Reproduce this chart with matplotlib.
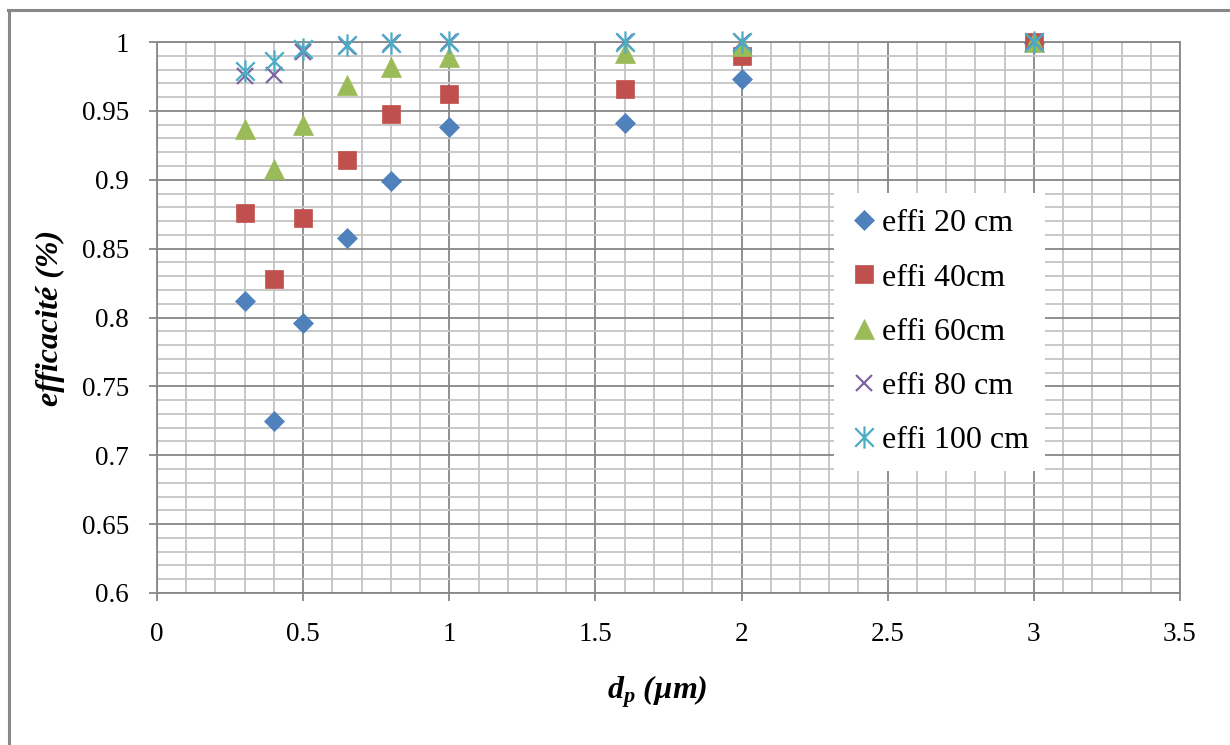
import matplotlib
matplotlib.use("Agg")
import matplotlib.pyplot as plt
from matplotlib.path import Path
from matplotlib.lines import Line2D
import numpy as np

plt.rcParams['font.family'] = ['Liberation Serif', 'DejaVu Serif']
plt.rcParams['mathtext.fontset'] = 'custom'
plt.rcParams['mathtext.it'] = 'Liberation Serif:italic:bold'
plt.rcParams['mathtext.rm'] = 'Liberation Serif:bold'

# Data
dp = [0.3, 0.4, 0.5, 0.65, 0.8, 1.0, 1.6, 2.0, 3.0]
effi_20 = [0.812, 0.725, 0.796, 0.858, 0.899, 0.938, 0.941, 0.973, 0.999]
effi_40 = [0.876, 0.828, 0.872, 0.914, 0.948, 0.962, 0.966, 0.990, 1.000]
effi_60 = [0.937, 0.908, 0.940, 0.969, 0.982, 0.989, 0.992, 0.997, 1.000]
effi_80 = [0.975, 0.976, 0.993, 0.997, 0.999, 1.000, 1.000, 1.000, 1.000]
effi_100 = [0.979, 0.986, 0.995, 0.998, 0.999, 1.000, 1.000, 1.000, 1.000]
labels = ['effi 20 cm', 'effi 40cm', 'effi 60cm', 'effi 80 cm', 'effi 100 cm']
colors = ['#4F81BD', '#C0504D', '#9BBB59', '#8064A2', '#4BACC6']

x_ticks = [0, 0.5, 1, 1.5, 2, 2.5, 3, 3.5]
y_ticks = [0.6, 0.65, 0.7, 0.75, 0.8, 0.85, 0.9, 0.95, 1.0]

# Excel-like star marker: X plus vertical line
star_path = Path(
    [(-0.5, -0.5), (0.5, 0.5), (-0.5, 0.5), (0.5, -0.5), (0, -0.6), (0, 0.6)],
    [Path.MOVETO, Path.LINETO, Path.MOVETO, Path.LINETO, Path.MOVETO, Path.LINETO])

fig = plt.figure(figsize=(12.3, 7.45), dpi=100)
ax = fig.add_axes([157/1230, 1-593/745, (1180-157)/1230, (593-42)/745])

series = [effi_20, effi_40, effi_60, effi_80, effi_100]
styles = [
    dict(marker='D', ms=10.5, mec=colors[0], mew=0.5),
    dict(marker='s', ms=13.5, mec=colors[1], mew=0.5),
    dict(marker='^', ms=14, mec=colors[2], mew=0.5),
    dict(marker='x', ms=12, mew=1.6),
    dict(marker=star_path, ms=16, mew=1.6),
]
handles = []
for s, lab, c, st in zip(series, labels, colors, styles):
    h, = ax.plot(dp, s, ls='none', color=c, label=lab, clip_on=False, zorder=3, **st)
    handles.append(h)

ax.set_xlim(0, 3.5)
ax.set_ylim(0.6, 1.0)
ax.set_xticks(x_ticks)
ax.set_xticklabels([f'{v:g}' for v in x_ticks])
ax.set_yticks(y_ticks)
ax.set_yticklabels([f'{v:g}' for v in y_ticks])
ax.set_xticks(np.arange(0, 3.5001, 0.1), minor=True)
ax.set_yticks(np.arange(0.6, 1.0001, 0.01), minor=True)
ax.grid(which='major', color='#878787', lw=1.3, zorder=1)
ax.grid(which='minor', color='#c4c4c4', lw=1.3, zorder=0)
ax.set_axisbelow(True)
ax.tick_params(which='minor', length=0)
ax.tick_params(which='major', length=6, color='#878787', width=1.3, labelsize=19.5)
ax.tick_params(axis='y', pad=14)
ax.tick_params(axis='x', pad=15)
for sp in ax.spines.values():
    sp.set_color('#878787')
    sp.set_linewidth(1.3)

fig.text(0.041, 1-318/745, 'efficacité (%)', rotation=90, fontsize=23, fontweight='bold',
         style='italic', ha='center', va='center')
fig.text(657/1230, 1-692/745, r'$d_p$ (µm)', fontsize=23, fontweight='bold', style='italic',
         ha='center', va='center')

leg = ax.legend(handles=handles, loc='upper left',
                bbox_to_anchor=(834/1230, 1-193/745), bbox_transform=fig.transFigure,
                fontsize=23, frameon=True, fancybox=False, edgecolor='white',
                framealpha=1, labelspacing=0.78, handlelength=0.9, handletextpad=0.1,
                borderpad=0.5, borderaxespad=0)
leg.get_frame().set_linewidth(0)
leg.set_zorder(5)

# chart-area border
fig.add_artist(Line2D([8.5/1230, 8.5/1230], [0, 1-10/745], transform=fig.transFigure,
                      color='#888888', lw=2.2))
fig.add_artist(Line2D([8/1230, 1], [1-10/745, 1-10/745], transform=fig.transFigure,
                      color='#888888', lw=2.2))

fig.savefig('out.png', dpi=100)
